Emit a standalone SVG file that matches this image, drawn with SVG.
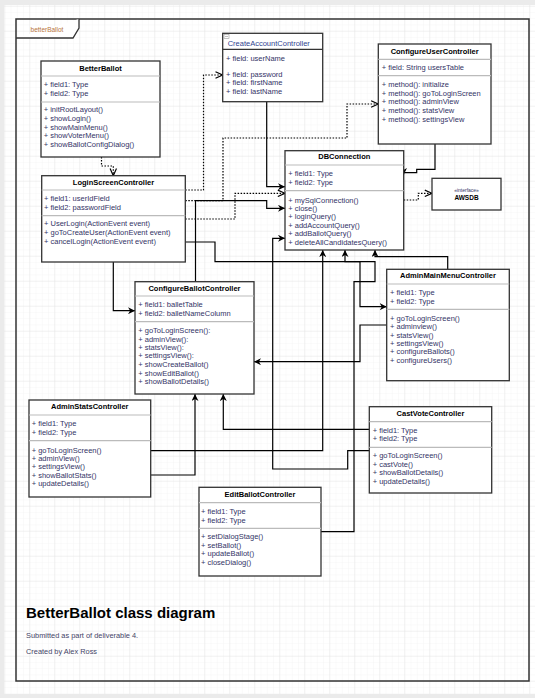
<svg xmlns="http://www.w3.org/2000/svg" width="535" height="698" viewBox="0 0 535 698">
<defs>
<pattern id="minor" x="4.3" y="5.7" width="6.25" height="6.25" patternUnits="userSpaceOnUse"><path d="M6.25 0H0V6.25" fill="none" stroke="#f3f3f3" stroke-width="0.8"/></pattern>
<pattern id="major" x="4.3" y="5.7" width="25" height="25" patternUnits="userSpaceOnUse"><path d="M25 0H0V25" fill="none" stroke="#e4e4e4" stroke-width="0.9"/></pattern>
<marker id="fa" viewBox="0 0 10 10" refX="10" refY="5" markerWidth="7" markerHeight="7" markerUnits="userSpaceOnUse" orient="auto"><path d="M0 0L10 5L0 10L3 5Z" fill="#000"/></marker>
<marker id="oa" viewBox="0 0 10 10" refX="10" refY="5" markerWidth="8" markerHeight="8" markerUnits="userSpaceOnUse" orient="auto"><path d="M1 1L10 5L1 9" fill="none" stroke="#000" stroke-width="1.5"/></marker>
</defs>
<style>
.box{fill:#fff;stroke:#333;stroke-width:1.3}
.sep{stroke:#bbbbbb;stroke-width:1.2}
.t{font-family:"Liberation Sans",Arial,sans-serif;font-size:7.5px;font-weight:bold;fill:#000;text-anchor:middle}
.m{font-family:"Liberation Sans",Arial,sans-serif;font-size:7.5px;fill:#333366}
.c{fill:none;stroke:#000;stroke-width:1.2;marker-end:url(#fa)}
.d{fill:none;stroke:#000;stroke-width:1.2;stroke-dasharray:1.5 1.5;marker-end:url(#oa)}
</style>
<rect width="535" height="698" fill="#ebebeb"/>
<rect x="4" y="5" width="531" height="689" fill="#fff"/>
<rect x="4" y="5" width="531" height="689" fill="url(#minor)"/>
<rect x="4" y="5" width="531" height="689" fill="url(#major)"/>
<g id="frame">
<rect x="16" y="19" width="513" height="662" fill="none" stroke="#333" stroke-width="1.5"/>
<path d="M16 38H73L79 28V19" fill="#fff" stroke="#333" stroke-width="1.3"/>
<text x="47" y="31.5" style="font-family:'Liberation Sans',Arial,sans-serif;font-size:6.5px;fill:#b8743c;text-anchor:middle">betterBallot</text>
</g>
<g id="connectors">
<path class="d" d="M101.5 157V166H113.3V175.7"/>
<path class="d" d="M185.3 190H203.5V75H222.7"/>
<path class="d" d="M185.3 200.7H223V138H347V104H378.3"/>
<path class="d" d="M185.3 219H235V193.3H285"/>
<path class="c" d="M195.5 281.7V200.7H266.7V208.3H285"/>
<path class="c" d="M266.7 101.7V186.7H285"/>
<path class="c" d="M435 144V169.3H416.7V172.7H403.5V175"/>
<path class="d" d="M403.7 200H418.3V193.3H432"/>
<path class="c" d="M113.3 262V310.7H135"/>
<path class="c" d="M185.3 242H215V261.7H360V306.7H386.7"/>
<path class="c" d="M447.7 269.3V256.7H375V250"/>
<path class="c" d="M386.7 325H360V361.7H254"/>
<path class="c" d="M321 531.7H354V281.7H375V261.7H345V250"/>
<path class="c" d="M150.7 450.7H322.7V250"/>
<path class="c" d="M150.7 475H195V394"/>
<path class="c" d="M369.3 429.3H223.3V394"/>
<path class="c" d="M369.3 450.7H347.7V469H272.7V238.3H285"/>
</g>
<g id="BetterBallot">
<rect class="box" x="41" y="61" width="119" height="96"/>
<text class="t" x="100.5" y="71">BetterBallot</text>
<line class="sep" x1="41" y1="76" x2="160" y2="76"/>
<text class="m" x="43.7" y="86.5">+ field1: Type</text>
<text class="m" x="43.7" y="95.5">+ field2: Type</text>
<line class="sep" x1="41" y1="102" x2="160" y2="102"/>
<text class="m" x="43.7" y="112">+ initRootLayout()</text>
<text class="m" x="43.7" y="120.8">+ showLogin()</text>
<text class="m" x="43.7" y="129.6">+ showMainMenu()</text>
<text class="m" x="43.7" y="138.4">+ showVoterMenu()</text>
<text class="m" x="43.7" y="147.2">+ showBallotConfigDialog()</text>
</g>
<g id="CreateAccountController">
<rect class="box" x="222.7" y="33.3" width="100" height="68.4"/>
<line class="sep" x1="222.7" y1="49.3" x2="322.7" y2="49.3" style="stroke:#333"/>
<rect x="224" y="34.5" width="5" height="4" fill="#fff" stroke="#999" stroke-width="0.6"/>
<line x1="225" y1="36.5" x2="228" y2="36.5" stroke="#999" stroke-width="0.6"/>
<text class="m" x="227.7" y="46" style="fill:#2f3f8f">CreateAccountController</text>
<text class="m" x="226" y="61">+ field: userName</text>
<text class="m" x="226" y="76.7">+ field: password</text>
<text class="m" x="226" y="85.4">+ field: firstName</text>
<text class="m" x="226" y="93.7">+ field: lastName</text>
</g>
<g id="ConfigureUserController">
<rect class="box" x="378.3" y="44" width="112.7" height="100"/>
<text class="t" x="434.6" y="53.5">ConfigureUserController</text>
<line class="sep" x1="378.3" y1="59.3" x2="491" y2="59.3"/>
<text class="m" x="381.7" y="70">+ field: String usersTable</text>
<line class="sep" x1="378.3" y1="75.7" x2="491" y2="75.7"/>
<text class="m" x="381.7" y="87">+ method(): initialize</text>
<text class="m" x="381.7" y="95.8">+ method(): goToLoginScreen</text>
<text class="m" x="381.7" y="104">+ method(): adminView</text>
<text class="m" x="381.7" y="112.7">+ method(): statsView</text>
<text class="m" x="381.7" y="121.8">+ method(): settingsView</text>
</g>
<g id="LoginScreenController">
<rect class="box" x="41.7" y="175.7" width="143.6" height="86.3"/>
<text class="t" x="113.5" y="184.5">LoginScreenController</text>
<line class="sep" x1="41.7" y1="190" x2="185.3" y2="190"/>
<text class="m" x="44" y="201">+ field1: userIdField</text>
<text class="m" x="44" y="210">+ field2: passwordField</text>
<line class="sep" x1="41.7" y1="215.7" x2="185.3" y2="215.7"/>
<text class="m" x="44" y="226">+ UserLogin(ActionEvent event)</text>
<text class="m" x="44" y="235">+ goToCreateUser(ActionEvent event)</text>
<text class="m" x="44" y="243.7">+ cancelLogin(ActionEvent event)</text>
</g>
<g id="DBConnection">
<rect class="box" x="285" y="150.7" width="118.7" height="99.3"/>
<text class="t" x="344.3" y="158.8">DBConnection</text>
<line class="sep" x1="285" y1="165" x2="403.7" y2="165"/>
<text class="m" x="288.3" y="176">+ field1: Type</text>
<text class="m" x="288.3" y="185">+ field2: Type</text>
<line class="sep" x1="285" y1="190.7" x2="403.7" y2="190.7"/>
<text class="m" x="288.3" y="202.7">+ mySqlConnection()</text>
<text class="m" x="288.3" y="211">+ close()</text>
<text class="m" x="288.3" y="219.4">+ loginQuery()</text>
<text class="m" x="288.3" y="227.7">+ addAccountQuery()</text>
<text class="m" x="288.3" y="236">+ addBallotQuery()</text>
<text class="m" x="288.3" y="245">+ deleteAllCandidatesQuery()</text>
</g>
<g id="AWSDB">
<rect class="box" x="432" y="178.3" width="69" height="31.7"/>
<text x="466.5" y="191.5" style="font-family:'Liberation Sans',Arial,sans-serif;font-size:5px;fill:#333366;text-anchor:middle">«interface»</text>
<text x="466.5" y="200" style="font-family:'Liberation Sans',Arial,sans-serif;font-size:6.5px;font-weight:bold;fill:#000;text-anchor:middle">AWSDB</text>
</g>
<g id="ConfigureBallotController">
<rect class="box" x="135" y="281.7" width="119" height="112.3"/>
<text class="t" x="194.5" y="291">ConfigureBallotController</text>
<line class="sep" x1="135" y1="296" x2="254" y2="296"/>
<text class="m" x="138.3" y="306.7">+ field1: balletTable</text>
<text class="m" x="138.3" y="316">+ field2: balletNameColumn</text>
<line class="sep" x1="135" y1="321.7" x2="254" y2="321.7"/>
<text class="m" x="138.3" y="333.4">+ goToLoginScreen():</text>
<text class="m" x="138.3" y="342">+ adminView():</text>
<text class="m" x="138.3" y="350.4">+ statsView():</text>
<text class="m" x="138.3" y="358.4">+ settingsView():</text>
<text class="m" x="138.3" y="367">+ showCreateBallot()</text>
<text class="m" x="138.3" y="375.7">+ showEditBallot()</text>
<text class="m" x="138.3" y="384.4">+ showBallotDetails()</text>
</g>
<g id="AdminMainMenuController">
<rect class="box" x="386.7" y="269.3" width="122.6" height="111.4"/>
<text class="t" x="448" y="277.8">AdminMainMenuController</text>
<line class="sep" x1="386.7" y1="284" x2="509.3" y2="284"/>
<text class="m" x="390" y="295.4">+ field1: Type</text>
<text class="m" x="390" y="304.4">+ field2: Type</text>
<line class="sep" x1="386.7" y1="309.3" x2="509.3" y2="309.3"/>
<text class="m" x="390" y="321.4">+ goToLoginScreen()</text>
<text class="m" x="390" y="329.4">+ adminview()</text>
<text class="m" x="390" y="337.7">+ statsView()</text>
<text class="m" x="390" y="346">+ settingsView()</text>
<text class="m" x="390" y="354.4">+ configureBallots()</text>
<text class="m" x="390" y="362.7">+ configureUsers()</text>
</g>
<g id="AdminStatsController">
<rect class="box" x="29" y="400" width="121.7" height="97"/>
<text class="t" x="89.8" y="408.5">AdminStatsController</text>
<line class="sep" x1="29" y1="415" x2="150.7" y2="415"/>
<text class="m" x="31.7" y="426">+ field1: Type</text>
<text class="m" x="31.7" y="435">+ field2: Type</text>
<line class="sep" x1="29" y1="440.7" x2="150.7" y2="440.7"/>
<text class="m" x="31.7" y="452.7">+ goToLoginScreen()</text>
<text class="m" x="31.7" y="461">+ adminView()</text>
<text class="m" x="31.7" y="469.4">+ settingsView()</text>
<text class="m" x="31.7" y="477.7">+ showBallotStats()</text>
<text class="m" x="31.7" y="486.4">+ updateDetails()</text>
</g>
<g id="CastVoteController">
<rect class="box" x="369.3" y="406.7" width="122.4" height="86.3"/>
<text class="t" x="430.5" y="416">CastVoteController</text>
<line class="sep" x1="369.3" y1="421.7" x2="491.7" y2="421.7"/>
<text class="m" x="372.7" y="433.4">+ field1: Type</text>
<text class="m" x="372.7" y="441">+ field2: Type</text>
<line class="sep" x1="369.3" y1="447.3" x2="491.7" y2="447.3"/>
<text class="m" x="372.7" y="458.4">+ goToLoginScreen()</text>
<text class="m" x="372.7" y="466.7">+ castVote()</text>
<text class="m" x="372.7" y="475.4">+ showBallotDetails()</text>
<text class="m" x="372.7" y="483.7">+ updateDetails()</text>
</g>
<g id="EditBallotController">
<rect class="box" x="199" y="487.3" width="122" height="88.7"/>
<text class="t" x="260" y="496.8">EditBallotController</text>
<line class="sep" x1="199" y1="502.7" x2="321" y2="502.7"/>
<text class="m" x="201" y="514.4">+ field1: Type</text>
<text class="m" x="201" y="523.4">+ field2: Type</text>
<line class="sep" x1="199" y1="528.3" x2="321" y2="528.3"/>
<text class="m" x="201" y="539.4">+ setDialogStage()</text>
<text class="m" x="201" y="548">+ setBallot()</text>
<text class="m" x="201" y="556.4">+ updateBallot()</text>
<text class="m" x="201" y="565">+ closeDialog()</text>
</g>
<g id="caption">
<text x="26" y="618" style="font-family:'Liberation Sans',Arial,sans-serif;font-size:15px;font-weight:bold;fill:#000">BetterBallot class diagram</text>
<text x="26" y="637.5" style="font-family:'Liberation Sans',Arial,sans-serif;font-size:7.4px;fill:#444466">Submitted as part of deliverable 4.</text>
<text x="26" y="653.5" style="font-family:'Liberation Sans',Arial,sans-serif;font-size:7.4px;fill:#444466">Created by Alex Ross</text>
</g>
</svg>
